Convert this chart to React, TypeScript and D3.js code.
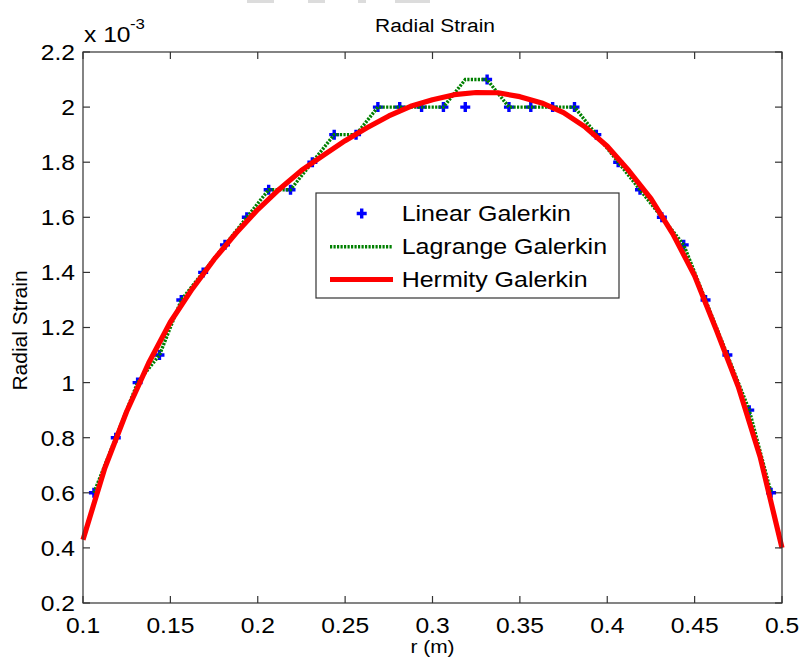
import React from "react";
import * as d3 from "d3";

// ---- data (strain values in units of 1e-3) ----
const markerR = [
  0.10625, 0.11875, 0.13125, 0.14375, 0.15625, 0.16875, 0.18125, 0.19375,
  0.20625, 0.21875, 0.23125, 0.24375, 0.25625, 0.26875, 0.28125, 0.29375,
  0.30625, 0.31875, 0.33125, 0.34375, 0.35625, 0.36875, 0.38125, 0.39375,
  0.40625, 0.41875, 0.43125, 0.44375, 0.45625, 0.46875, 0.48125, 0.49375,
];
const linearGalerkin = [
  0.6, 0.8, 1.0, 1.1, 1.3, 1.4, 1.5, 1.6, 1.7, 1.7, 1.8, 1.9, 1.9, 2.0, 2.0, 2.0,
  2.0, 2.0, 2.1, 2.0, 2.0, 2.0, 2.0, 1.9, 1.8, 1.7, 1.6, 1.5, 1.3, 1.1, 0.9, 0.6,
];
const lagrangeGalerkin = [
  0.6, 0.8, 1.0, 1.1, 1.3, 1.4, 1.5, 1.6, 1.7, 1.7, 1.8, 1.9, 1.9, 2.0, 2.0, 2.0,
  2.0, 2.1, 2.1, 2.0, 2.0, 2.0, 2.0, 1.9, 1.8, 1.7, 1.6, 1.5, 1.3, 1.1, 0.9, 0.6,
];
const hermiteR = [
  0.1, 0.1125, 0.125, 0.1375, 0.15, 0.1625, 0.175, 0.1875, 0.2, 0.2125, 0.225,
  0.2375, 0.25, 0.2625, 0.275, 0.2875, 0.3, 0.3125, 0.325, 0.3375, 0.35, 0.3625,
  0.375, 0.3875, 0.4, 0.4125, 0.425, 0.4375, 0.45, 0.4625, 0.475, 0.4875, 0.5,
];
const hermityGalerkin = [
  0.43, 0.69, 0.895, 1.07, 1.22, 1.34, 1.447, 1.542, 1.628, 1.703, 1.77,
  1.825, 1.878, 1.925, 1.968, 2.003, 2.027, 2.045, 2.053, 2.052, 2.038, 2.015,
  1.98, 1.927, 1.858, 1.768, 1.668, 1.54, 1.388, 1.19, 0.985, 0.73, 0.4,
];
const xTicks = [0.1, 0.15, 0.2, 0.25, 0.3, 0.35, 0.4, 0.45, 0.5];
const xTickLabels = ["0.1", "0.15", "0.2", "0.25", "0.3", "0.35", "0.4", "0.45", "0.5"];
const yTicks = [0.2, 0.4, 0.6, 0.8, 1.0, 1.2, 1.4, 1.6, 1.8, 2.0, 2.2];
const yTickLabels = ["0.2", "0.4", "0.6", "0.8", "1", "1.2", "1.4", "1.6", "1.8", "2", "2.2"];
const legendLabels = ["Linear Galerkin", "Lagrange Galerkin", "Hermity Galerkin"];

const FONT = "'Liberation Sans', Arial, Helvetica, sans-serif";
const SX = 1.12; // glyphs are wider than Arial in the original

const L = 83, R = 782, T = 52, B = 603;

function ST({ x, y, size, anchor = "start", children, fill = "#000" }: any) {
  const tr = `translate(${x},${y}) scale(${SX},1)`;
  return (
    <text transform={tr} fontSize={size} textAnchor={anchor} fontFamily={FONT} fill={fill}>
      {children}
    </text>
  );
}

export default function App() {
  const x = d3.scaleLinear().domain([0.1, 0.5]).range([L, R]);
  const y = d3.scaleLinear().domain([0.2, 2.2]).range([B, T]);
  const line = d3.line<[number, number]>().x((d) => x(d[0])).y((d) => y(d[1]));
  const lagPath = line(markerR.map((r, i) => [r, lagrangeGalerkin[i]] as [number, number])) || "";
  const herPath = line(hermiteR.map((r, i) => [r, hermityGalerkin[i]] as [number, number])) || "";
  const plus = "M-5,0H5M0,-5V5";
  const tick = 7;
  const axisColor = "#333";

  const legX0 = 316, legY0 = 193, legW = 303, legH = 105;
  const rowY = [213.5, 246.7, 279.5];

  return (
    <svg width={803} height={661} style={{ position: "absolute", left: 0, top: 0, background: "#fff" }}>
      <rect x={0} y={0} width={803} height={661} fill="#fff" />
      {/* cropped artifacts on top edge */}
      <rect x={247} y={0} width={27} height={3} fill="#dcdcdc" />
      <rect x={308} y={0} width={17} height={3} fill="#dcdcdc" />
      <rect x={358} y={0} width={8} height={3} fill="#dcdcdc" />
      <rect x={395} y={0} width={35} height={3} fill="#dcdcdc" />

      {/* markers */}
      <g stroke="#0000ff" strokeWidth={3.4} fill="none">
        {markerR.map((r, i) => (
          <path key={i} d={plus} transform={`translate(${x(r)},${y(linearGalerkin[i])})`} />
        ))}
      </g>
      {/* Lagrange dotted */}
      <path d={lagPath} fill="none" stroke="#008000" strokeWidth={3.4} strokeDasharray="2.2,1.3" />
      {/* Hermite solid */}
      <path d={herPath} fill="none" stroke="#ff0000" strokeWidth={5.2} strokeLinejoin="round" />

      {/* axes box */}
      <rect x={L} y={T} width={R - L} height={B - T} fill="none" stroke={axisColor} strokeWidth={1.2} />
      {xTicks.map((t, i) => (
        <g key={"x" + i}>
          <line x1={x(t)} x2={x(t)} y1={B} y2={B - tick} stroke={axisColor} strokeWidth={1.2} />
          <line x1={x(t)} x2={x(t)} y1={T} y2={T + tick} stroke={axisColor} strokeWidth={1.2} />
          <ST x={x(t)} y={632.5} size={22} anchor="middle">{xTickLabels[i]}</ST>
        </g>
      ))}
      {yTicks.map((t, i) => (
        <g key={"y" + i}>
          <line x1={L} x2={L + tick} y1={y(t)} y2={y(t)} stroke={axisColor} strokeWidth={1.2} />
          <line x1={R} x2={R - tick} y1={y(t)} y2={y(t)} stroke={axisColor} strokeWidth={1.2} />
          <ST x={75} y={y(t) + 7.9} size={22} anchor="end">{yTickLabels[i]}</ST>
        </g>
      ))}

      {/* exponent */}
      <ST x={84} y={42} size={22}>x 10</ST>
      <ST x={130} y={29} size={15}>-3</ST>

      {/* title and labels */}
      <ST x={435} y={32.3} size={18.7} anchor="middle">Radial Strain</ST>
      <ST x={432.5} y={652.5} size={18.7} anchor="middle">r (m)</ST>
      <text
        transform="translate(26.5,330.5) rotate(-90)"
        fontSize={21}
        textAnchor="middle"
        fontFamily={FONT}
        fill="#000"
      >
        Radial Strain
      </text>

      {/* legend */}
      <rect x={legX0} y={legY0} width={legW} height={legH} fill="#fff" stroke={axisColor} strokeWidth={1.2} />
      <path d={plus} transform={`translate(361.7,${rowY[0]})`} stroke="#0000ff" strokeWidth={3.4} fill="none" />
      <line x1={330} x2={393} y1={rowY[1]} y2={rowY[1]} stroke="#008000" strokeWidth={3.4} strokeDasharray="2.2,1.3" />
      <line x1={330} x2={393} y1={rowY[2]} y2={rowY[2]} stroke="#ff0000" strokeWidth={5.2} />
      {legendLabels.map((lab, i) => (
        <ST key={lab} x={401.7} y={rowY[i] + 7.6} size={22.3}>{lab}</ST>
      ))}
    </svg>
  );
}
